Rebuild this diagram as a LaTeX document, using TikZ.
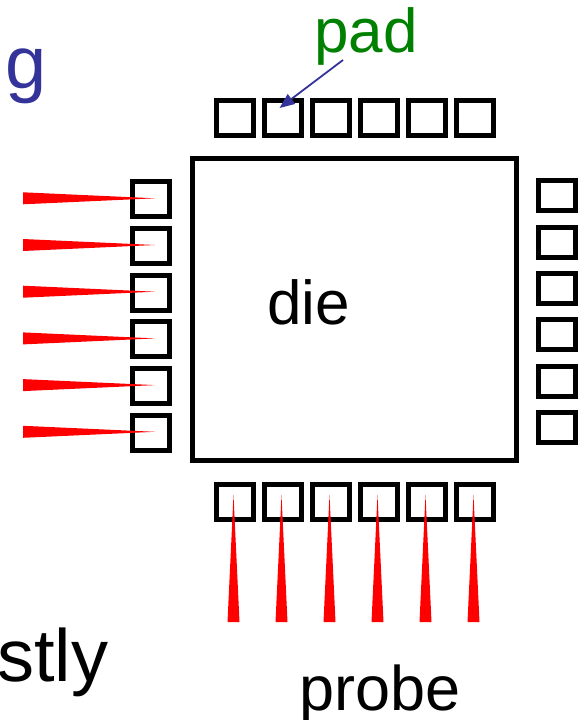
\documentclass[tikz,border=0pt]{standalone}
\usepackage{fontspec}
\setmainfont{Liberation Sans}
\usetikzlibrary{arrows.meta,calc}
\definecolor{padgreen}{RGB}{0,128,0}
\definecolor{darkblue}{RGB}{51,51,153}
\tikzset{
  padbox/.style={draw=black,line width=5pt,rectangle,inner sep=0pt,minimum width=37pt,minimum height=35pt},
  rpadbox/.style={padbox,minimum width=37pt,minimum height=30pt},
  probefill/.style={fill=red,draw=none},
  lbl/.style={inner sep=0pt,anchor=base west},
}
\begin{document}
\begin{tikzpicture}[x=1pt,y=-1pt]
\useasboundingbox (0,0) rectangle (585,720);
% die
\node[draw=black,line width=5pt,rectangle,inner sep=0pt,minimum width=324pt,minimum height=302pt] (die) at (354,309) {};
% pads
\foreach \i in {0,...,5}{
  \node[padbox] (T\i) at ({234.5+48*\i},118) {};
  \node[padbox] (B\i) at ({234.5+48*\i},502) {};
  \node[padbox] (L\i) at (151,{199.3+46.7*\i}) {};
  \node[rpadbox] (R\i) at (557,{195.8+46.3*\i}) {};
}
% probes
\foreach \i in {0,...,5}{
  \fill[probefill] ($(L\i.center)+(4,-1)$) -- ($(L\i.center)+(-128,-7)$) -- ($(L\i.center)+(-128,5)$) -- cycle;
  \fill[probefill] ($(B\i.center)+(-1,-7)$) -- ($(B\i.center)+(-7,120)$) -- ($(B\i.center)+(5,120)$) -- cycle;
}
% texts
\node[lbl,text=darkblue,font=\fontsize{74}{88}\selectfont] (g) at (5,88) {g};
\node[lbl,text=black,font=\fontsize{74}{88}\selectfont] (stly) at (-3,681) {stly};
\node[lbl,text=padgreen,font=\fontsize{62}{74}\selectfont] (pad) at (314,52) {pad};
\node[lbl,text=black,font=\fontsize{62}{74}\selectfont] (dietext) at (267,324) {die};
\node[lbl,text=black,font=\fontsize{63}{75}\selectfont] (probe) at (299,710) {probe};
% arrow
\coordinate (arrstart) at ($(pad.base west)+(29,8)$);
\draw[darkblue,line width=1.8pt,-{Triangle[length=15pt,width=12pt]}] (arrstart) -- ($(T1.center)+(-3,-10)$);
\end{tikzpicture}
\end{document}
